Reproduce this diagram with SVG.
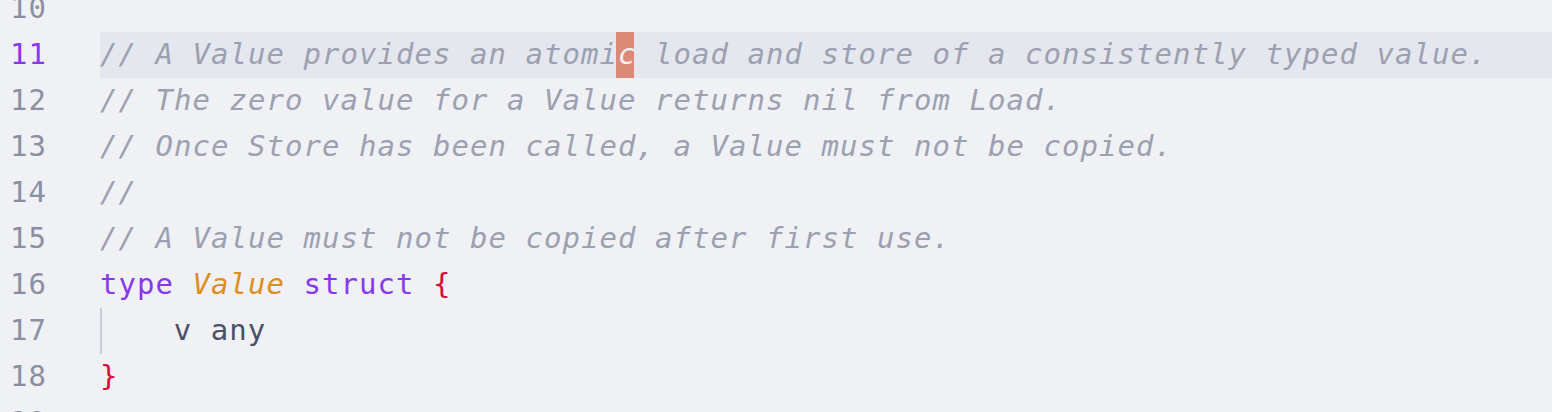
<svg xmlns="http://www.w3.org/2000/svg" width="1552" height="412" viewBox="0 0 1552 412">
<style>
text{font-family:"DejaVu Sans Mono","Liberation Mono",monospace;font-size:29px;letter-spacing:1.04px;white-space:pre}
.ln{fill:#8c8fa1}
.lna{fill:#8839ef}
.cm{fill:#9ca0b0;font-style:italic}
.kw{fill:#8839ef}
.ty{fill:#df8e1d;font-style:italic}
.br{fill:#d20f39}
.tx{fill:#4c4f69}
</style>
<rect width="1552" height="412" fill="#eff1f5"/>
<rect id="current-line" x="100" y="32" width="1452" height="46" fill="#e4e7ed"/>
<rect id="cursor" x="616" y="32" width="18" height="46" fill="#dc8a78"/>
<line id="indent-guide" x1="101" y1="308" x2="101" y2="354" stroke="#bcc0cc" stroke-width="1.5"/>
<g id="gutter">
<text class="ln" x="10" y="18">10</text>
<text class="lna" x="10" y="64">11</text>
<text class="ln" x="10" y="110">12</text>
<text class="ln" x="10" y="156">13</text>
<text class="ln" x="10" y="202">14</text>
<text class="ln" x="10" y="248">15</text>
<text class="ln" x="10" y="294">16</text>
<text class="ln" x="10" y="340">17</text>
<text class="ln" x="10" y="386">18</text>
<text class="ln" x="10" y="432">19</text>
</g>
<g id="code">
<text class="cm" x="100" y="64">// A Value provides an atomi<tspan fill="#eff1f5">c</tspan> load and store of a consistently typed value.</text>
<text class="cm" x="100" y="110">// The zero value for a Value returns nil from Load.</text>
<text class="cm" x="100" y="156">// Once Store has been called, a Value must not be copied.</text>
<text class="cm" x="100" y="202">//</text>
<text class="cm" x="100" y="248">// A Value must not be copied after first use.</text>
<text x="100" y="294"><tspan class="kw">type</tspan> <tspan class="ty">Value</tspan> <tspan class="kw">struct</tspan> <tspan class="br">{</tspan></text>
<text class="tx" x="173.8" y="340">v any</text>
<text class="br" x="100" y="386">}</text>
</g>
</svg>
